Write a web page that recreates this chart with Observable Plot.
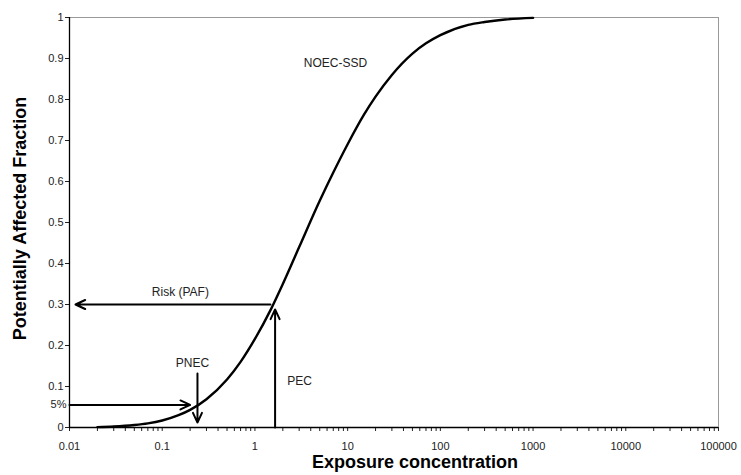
<!DOCTYPE html>
<html>
<head>
<meta charset="utf-8">
<script src="https://cdn.jsdelivr.net/npm/d3@7"></script>
<script src="https://cdn.jsdelivr.net/npm/@observablehq/plot@0.6"></script>
<style>
  html, body { margin: 0; padding: 0; background: #fff; }
</style>
</head>
<body>
<div id="chart"></div>
<script>
// Curve (NOEC-SSD)
const conc = [0.02, 0.03, 0.05, 0.07, 0.1, 0.15, 0.2, 0.3, 0.5, 0.7, 1, 1.5, 2, 3, 5, 7, 10, 15, 20, 30, 50, 70, 100, 200, 300, 500, 1000];
const paf  = [0.001, 0.0024, 0.006, 0.010, 0.017, 0.030, 0.043, 0.069, 0.117, 0.160, 0.216, 0.290, 0.350, 0.440, 0.553, 0.622, 0.691, 0.763, 0.807, 0.860, 0.912, 0.937, 0.957, 0.982, 0.989, 0.995, 0.999];

// Tick values and labels
const xMajor = [0.01, 0.1, 1, 10, 100, 1000, 10000, 100000];
const xMajorLabels = ["0.01", "0.1", "1", "10", "100", "1000", "10000", "100000"];
const yTicks = [0, 0.1, 0.2, 0.3, 0.4, 0.5, 0.6, 0.7, 0.8, 0.9, 1];
const yTickLabels = ["0", "0.1", "0.2", "0.3", "0.4", "0.5", "0.6", "0.7", "0.8", "0.9", "1"];

// Arrows (Risk, 5%, PNEC, PEC)
const arrowX1 = [1.47, 0.01, 0.24, 1.65];
const arrowY1 = [0.30, 0.055, 0.132, 0.0];
const arrowX2 = [0.0116, 0.20, 0.24, 1.65];
const arrowY2 = [0.30, 0.055, 0.012, 0.288];

// Annotations
const annText = ["NOEC-SSD", "Risk (PAF)", "PNEC", "PEC"];
const annX = [7.4, 0.157, 0.212, 3.03];
const annY = [0.889, 0.329, 0.156, 0.112];

const xTicks = xMajor.slice(0, -1).flatMap(d => [1,2,3,4,5,6,7,8,9].map(k => d * k)).concat([100000]);
const fmtX = d => {
  const i = xMajor.findIndex(m => Math.abs(m - d) / m < 1e-9);
  return i >= 0 ? xMajorLabels[i] : "";
};
const fmtY = d => {
  const i = yTicks.findIndex(t => Math.abs(t - d) < 1e-9);
  return i >= 0 ? yTickLabels[i] : "";
};

const curve = conc.map((c, i) => ({c, p: paf[i]}));
const arrows = arrowX1.map((_, i) => i);

const chart = Plot.plot({
  width: 741,
  height: 475,
  marginLeft: 69,
  marginRight: 23,
  marginTop: 17,
  marginBottom: 48,
  style: {fontFamily: "'Liberation Sans', Arial, sans-serif", fontSize: "11px", color: "#222", background: "#fff"},
  x: {type: "log", domain: [0.01, 100000], ticks: xTicks, tickFormat: fmtX, tickSize: 4, tickPadding: 11, label: null},
  y: {domain: [0, 1], ticks: yTicks, tickFormat: fmtY, tickSize: 4, tickPadding: 2, label: null},
  marks: [
    Plot.ruleY([1], {stroke: "#999", strokeWidth: 1}),
    Plot.ruleX([100000], {stroke: "#999", strokeWidth: 1}),
    Plot.ruleX([0.01], {stroke: "#000", strokeWidth: 1.3}),
    Plot.ruleY([0], {stroke: "#000", strokeWidth: 1.3}),
    Plot.line(curve, {x: "c", y: "p", stroke: "#000", strokeWidth: 2.4, curve: "monotone-x"}),
    Plot.arrow(arrows, {
      x1: arrowX1, y1: arrowY1, x2: arrowX2, y2: arrowY2,
      stroke: "#000", strokeWidth: 2, headLength: 8, headAngle: 50
    }),
    Plot.text(annText, {x: annX, y: annY, text: d => d, fontSize: 12, fill: "#222", letterSpacing: 1}),
    Plot.text(["5%"], {x: [0.01], y: [0.055], text: d => d, textAnchor: "end", dx: -3, fontSize: 11, fill: "#222"}),
    Plot.text(["Exposure concentration"], {text: d => d, frameAnchor: "bottom", textAnchor: "middle", dy: 40, dx: 21, fontWeight: "bold", fontSize: 18, fill: "#000"}),
    Plot.text(["Potentially Affected Fraction"], {text: d => d, frameAnchor: "left", textAnchor: "middle", rotate: -90, dx: -49, dy: -4, fontWeight: "bold", fontSize: 18, fill: "#000"})
  ]
});
document.getElementById("chart").appendChild(chart);
</script>
</body>
</html>
